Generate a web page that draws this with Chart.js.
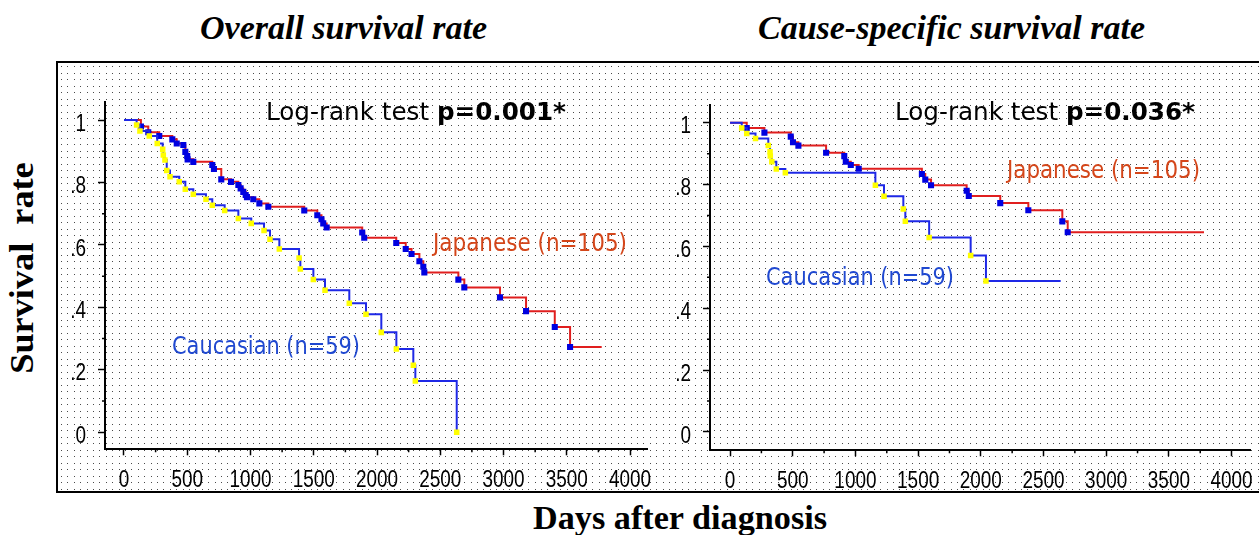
<!DOCTYPE html>
<html><head><meta charset="utf-8">
<script src="https://cdn.jsdelivr.net/npm/chart.js@4.4.1/dist/chart.umd.min.js"></script>
<style>
html,body{margin:0;padding:0;background:#fff;width:1259px;height:535px;overflow:hidden;position:relative;}
#frame{position:absolute;left:56px;top:61px;width:1300px;height:428px;border:2px solid #000;}
#dots{position:absolute;left:58px;top:63px;}
canvas.ch{position:absolute;}
.t{position:absolute;white-space:nowrap;transform-origin:0 0;}
.title{font:italic bold 34px 'Liberation Serif',serif;line-height:34px;color:#000;}
.axt{font:bold 34px 'Liberation Serif',serif;line-height:34px;color:#000;}
.lr{font:25px 'DejaVu Sans',sans-serif;line-height:25px;color:#000;}
.lr b{font-weight:bold;}
.lab{font:24px 'DejaVu Sans',sans-serif;line-height:24px;}
.jp{color:#d4461a;}
.ca{color:#1f48d0;}
#ytitle{position:absolute;left:22px;top:268px;white-space:nowrap;transform:translate(-50%,-50%) rotate(-90deg) scaleX(1.066);}
</style>
</head><body>
<div id="frame"></div>
<canvas id="dots" width="1201" height="428"></canvas>
<canvas id="c1" class="ch" width="600" height="430" style="left:57px;top:62px;width:600px;height:430px"></canvas>
<canvas id="c2" class="ch" width="600" height="430" style="left:660px;top:62px;width:600px;height:430px"></canvas>

<div class="t title" style="left:200px;top:10.5px" data-w="287">Overall survival rate</div>
<div class="t title" style="left:758px;top:10.5px" data-w="387">Cause-specific survival rate</div>
<div class="t axt" style="left:533px;top:500.5px" data-w="294">Days after diagnosis</div>
<div id="ytitle" class="axt">Survival&nbsp; rate</div>

<div class="t lr" style="left:266px;top:99.2px" data-w="300">Log-rank test <b>p=0.001*</b></div>
<div class="t lr" style="left:895px;top:99.2px" data-w="300">Log-rank test <b>p=0.036*</b></div>
<div class="t lab jp" style="left:433px;top:230.7px" data-w="194">Japanese (n=105)</div>
<div class="t lab jp" style="left:1007px;top:158px" data-w="193">Japanese (n=105)</div>
<div class="t lab ca" style="left:172px;top:333.5px" data-w="188">Caucasian (n=59)</div>
<div class="t lab ca" style="left:766px;top:264.7px" data-w="188">Caucasian (n=59)</div>

<script>
// ---------- data ----------
const xTickValues = [0, 500, 1000, 1500, 2000, 2500, 3000, 3500, 4000];
const xMinorTickValues = [250, 750, 1250, 1750, 2250, 2750, 3250, 3750];
const yTickValues = [0, 0.2, 0.4, 0.6, 0.8, 1];
const yTickLabels = ['0', '.2', '.4', '.6', '.8', '1'];
const yMinorTickValues = [0.1, 0.3, 0.5, 0.7, 0.9];

const seriesNames = ['Japanese (n=105)', 'Caucasian (n=59)'];

// Overall survival
const jpOverallDays = [0, 134, 192, 279, 382, 417, 469, 485, 500, 503, 548, 698, 711, 769, 846, 904, 922, 943, 962, 972, 1022, 1070, 1141, 1425, 1528, 1561, 1575, 1602, 1883, 1899, 2152, 2227, 2273, 2335, 2366, 2374, 2643, 2690, 2972, 3178, 3405, 3526];
const jpOverallSurv = [1, .979, .961, .949, .938, .925, .920, .898, .885, .874, .866, .856, .843, .810, .802, .792, .781, .770, .760, .753, .746, .733, .722, .710, .695, .682, .669, .656, .640, .623, .606, .587, .571, .548, .530, .512, .489, .464, .432, .388, .337, .273];
const jpOverallLastDay = 3776;

const caOverallDays = [0, 100, 126, 200, 263, 306, 311, 324, 338, 364, 437, 485, 548, 648, 698, 796, 904, 1006, 1107, 1154, 1228, 1384, 1394, 1497, 1589, 1781, 1913, 2034, 2153, 2287, 2303, 2630];
const caOverallSurv = [1, .984, .965, .949, .925, .906, .888, .872, .838, .818, .802, .778, .762, .746, .727, .710, .685, .669, .646, .618, .587, .558, .523, .489, .455, .413, .378, .320, .267, .215, .164, 0];
const caOverallLastDay = 2630;

// Cause-specific survival
const jpCauseDays = [0, 133, 274, 484, 502, 545, 766, 911, 923, 963, 1026, 1530, 1557, 1603, 1887, 1904, 2155, 2379, 2650, 2693];
const jpCauseSurv = [1, .983, .968, .955, .937, .926, .903, .892, .874, .863, .851, .834, .816, .798, .780, .763, .740, .717, .681, .646];
const jpCauseLastDay = 3780;

const caCauseDays = [0, 93, 133, 203, 305, 319, 321, 333, 369, 441, 1159, 1228, 1382, 1398, 1588, 1919, 2041];
const caCauseSurv = [1, .983, .965, .949, .926, .906, .892, .874, .850, .838, .798, .762, .721, .681, .629, .571, .488];
const caCauseLastDay = 2637;

// ---------- helpers ----------
function kmPoints(days, surv, lastDay) {
  const pts = days.map((d, i) => ({x: d, y: surv[i], m: i > 0}));
  if (lastDay > days[days.length - 1]) pts.push({x: lastDay, y: surv[surv.length - 1], m: false});
  return pts;
}

// dotted background
(function () {
  const c = document.getElementById('dots').getContext('2d');
  c.fillStyle = '#4a4a4a';
  for (let y = 3; y < 428; y += 6.5) {
    for (let x = 3; x < 1201; x += 6.4) {
      c.fillRect(Math.round(x), Math.round(y), 1, 1);
    }
  }
})();

const minorTicks = {
  id: 'minorTicks',
  afterDraw(chart) {
    const {ctx, chartArea, scales: {x, y}} = chart;
    ctx.save();
    ctx.strokeStyle = '#000';
    ctx.lineWidth = 1.5;
    ctx.beginPath();
    xMinorTickValues.forEach(v => {
      const px = x.getPixelForValue(v);
      ctx.moveTo(px, chartArea.bottom); ctx.lineTo(px, chartArea.bottom + 3);
    });
    yMinorTickValues.forEach(v => {
      const py = y.getPixelForValue(v);
      ctx.moveTo(chartArea.left, py); ctx.lineTo(chartArea.left - 3, py);
    });
    ctx.stroke();
    ctx.restore();
  }
};

// narrow the numeric tick labels horizontally (the original uses a condensed face)
const TICK_SQUEEZE = 0.79;
const condenseTicks = {
  id: 'condenseTicks',
  beforeInit(chart) {
    const ctx = chart.ctx;
    const orig = ctx.fillText.bind(ctx);
    ctx.fillText = function (t, x, y, mw) {
      const s = String(t);
      if (/^[0-9.]+$/.test(s)) {
        return orig(s, x, y, ctx.measureText(s).width * TICK_SQUEEZE);
      }
      return mw === undefined ? orig(s, x, y) : orig(s, x, y, mw);
    };
  }
};

const tickFont = {family: "'Liberation Sans', Arial, sans-serif", size: 24};

function makeChart(id, jp, ca, g) {
  return new Chart(document.getElementById(id), {
    type: 'line',
    data: {
      datasets: [
        {label: seriesNames[1], data: ca, borderColor: '#1e28e6', borderWidth: 2, stepped: true,
          pointStyle: 'rect', pointBackgroundColor: '#ffff00', pointBorderWidth: 0,
          pointRadius: c => (c.raw && c.raw.m ? 3.9 : 0), fill: false, tension: 0},
        {label: seriesNames[0], data: jp, borderColor: '#e01e1e', borderWidth: 2, stepped: true,
          pointStyle: 'rect', pointBackgroundColor: '#0000e0', pointBorderWidth: 0,
          pointRadius: c => (c.raw && c.raw.m ? 4.3 : 0), fill: false, tension: 0}
      ]
    },
    options: {
      responsive: false, animation: false, events: [],
      layout: {padding: {top: g.padTop, right: 10, left: 0, bottom: 0}},
      plugins: {legend: {display: false}, tooltip: {enabled: false}},
      scales: {
        x: {
          type: 'linear', min: g.xMin, max: g.xMax,
          afterBuildTicks: a => { a.ticks = xTickValues.map(v => ({value: v})); },
          afterFit: s => { s.height = g.xH; s.paddingLeft = 0; s.paddingRight = 0; },
          grid: {drawOnChartArea: false, drawTicks: true, tickLength: 6, tickWidth: 1.5, tickColor: '#000'},
          border: {display: true, color: '#000', width: 2},
          ticks: {font: tickFont, color: '#000', padding: 11, maxRotation: 0, autoSkip: false,
            callback: v => String(v)}
        },
        y: {
          type: 'linear', min: g.yMin, max: g.yMax,
          afterBuildTicks: a => { a.ticks = yTickValues.map(v => ({value: v})); },
          afterFit: s => { s.width = g.yW; s.paddingTop = 0; s.paddingBottom = 0; },
          grid: {drawOnChartArea: false, drawTicks: true, tickLength: 7, tickWidth: 1.5, tickColor: '#000'},
          border: {display: true, color: '#000', width: 2},
          ticks: {font: tickFont, color: '#000', padding: 12, labelOffset: 4, autoSkip: false,
            callback: v => { const i = yTickValues.findIndex(t => Math.abs(t - v) < 1e-6); return i >= 0 ? yTickLabels[i] : ''; }}
        }
      }
    },
    plugins: [minorTicks, condenseTicks]
  });
}

makeChart('c1', kmPoints(jpOverallDays, jpOverallSurv, jpOverallLastDay), kmPoints(caOverallDays, caOverallSurv, caOverallLastDay),
  {padTop: 40.3, xH: 42.7, yW: 48, xMin: -150, xMax: 4134, yMin: -0.0544, yMax: 1.0567});
makeChart('c2', kmPoints(jpCauseDays, jpCauseSurv, jpCauseLastDay), kmPoints(caCauseDays, caCauseSurv, caCauseLastDay),
  {padTop: 42.7, xH: 41.7, yW: 50, xMin: -160, xMax: 4147, yMin: -0.0592, yMax: 1.0582});

// fit annotation text widths
document.querySelectorAll('.t[data-w]').forEach(el => {
  const w = el.getBoundingClientRect().width;
  const target = parseFloat(el.dataset.w);
  el.style.transform = 'scaleX(' + (target / w).toFixed(4) + ')';
});
</script>
</body></html>
